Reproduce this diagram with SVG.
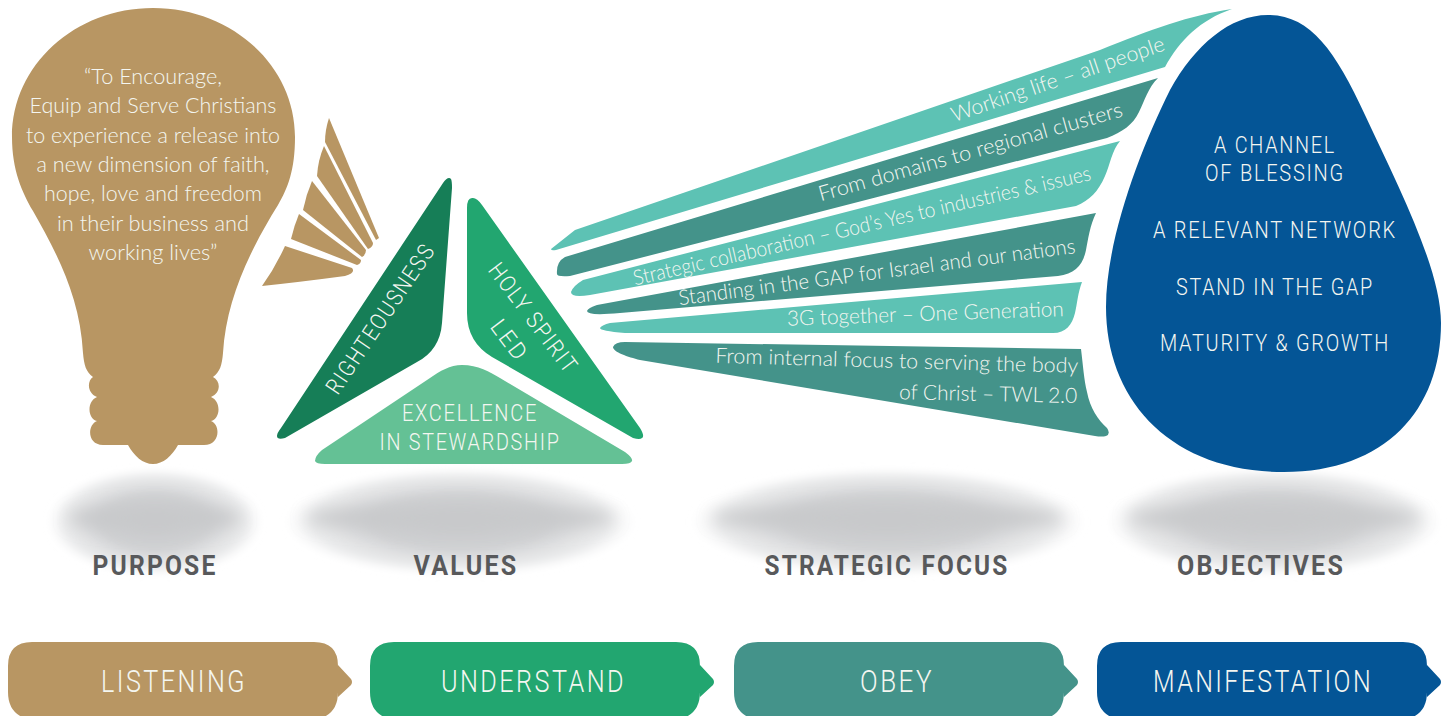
<svg xmlns="http://www.w3.org/2000/svg" width="1450" height="716" viewBox="0 0 1450 716">
<style>
text{font-family:"Lato","Noto Sans","Liberation Sans",sans-serif;font-weight:300;fill:#f4f6f1;}
.m{text-anchor:middle}
.e{text-anchor:end}
.body{font-size:21px}
.bar{font-size:21px}
.cap{font-family:"Roboto","Lato",sans-serif;font-size:23px;letter-spacing:2px}
.lab{font-family:"Roboto","Lato",sans-serif;font-size:28px;font-weight:700;fill:#58595b;text-anchor:middle;letter-spacing:2.5px}
.btn{font-family:"Roboto","Lato",sans-serif;font-size:31px;text-anchor:middle;letter-spacing:3px}
.tan{fill:#b89663}.tl{fill:#5dc2b4}.dt{fill:#44938a}
.sh1{fill:url(#shade);filter:url(#soft)}
.sh2{fill:#c8c9cb;filter:url(#blur)}
</style>
<defs>
<radialGradient id="shade"><stop offset="0" stop-color="#c8c9cb"/><stop offset=".5" stop-color="#d0d1d3"/><stop offset=".85" stop-color="#e6e7e8" stop-opacity=".8"/><stop offset="1" stop-color="#f2f2f3" stop-opacity="0"/></radialGradient>
<filter id="soft" x="-20%" y="-40%" width="140%" height="180%"><feGaussianBlur stdDeviation="3"/></filter>
<filter id="blur" x="-30%" y="-200%" width="160%" height="500%"><feGaussianBlur stdDeviation="8"/></filter>
<path id="btn" d="M24 642H306Q330 642 330 666V665L343 679Q345 682 343 685L330 697V692Q330 716 306 720H24Q0 716 0 692V666Q0 642 24 642Z"/>
</defs>
<rect width="1450" height="716" fill="#fff"/>

<g id="shadows">
<ellipse class="sh1" cx="155" cy="522" rx="108" ry="54"/>
<ellipse class="sh2" cx="155" cy="518" rx="86" ry="13"/>
<ellipse class="sh1" cx="460" cy="522" rx="176" ry="54"/>
<ellipse class="sh2" cx="460" cy="518" rx="154" ry="13"/>
<ellipse class="sh1" cx="888" cy="522" rx="198" ry="54"/>
<ellipse class="sh2" cx="888" cy="518" rx="176" ry="13"/>
<ellipse class="sh1" cx="1274" cy="522" rx="168" ry="54"/>
<ellipse class="sh2" cx="1274" cy="518" rx="146" ry="13"/>
</g>

<g id="purpose-bulb">
<path class="tan" d="M153 8C75 8 12 65 12 137C12 170 22 192 33 211C55 250 80 295 83 353C84 365 86 372 93 377C87 381 87 393 97 397C87 401 87 418 97 421C87 425 87 445 103 445H128C134 456 143 464 153 464C163 464 172 456 178 445H204C220 445 221 425 211 421C221 418 221 401 211 397C221 393 221 381 213 377C220 372 222 365 223 353C226 300 250 250 278 205C288 188 295 170 295 137C295 65 231 8 153 8Z"/>
<text class="body m" x="153" y="84" textLength="138" lengthAdjust="spacingAndGlyphs">“To Encourage,</text>
<text class="body m" x="153" y="113" textLength="247" lengthAdjust="spacingAndGlyphs">Equip and Serve Christians</text>
<text class="body m" x="153" y="143" textLength="254" lengthAdjust="spacingAndGlyphs">to experience a release into</text>
<text class="body m" x="153" y="172" textLength="233" lengthAdjust="spacingAndGlyphs">a new dimension of faith,</text>
<text class="body m" x="153" y="201" textLength="218" lengthAdjust="spacingAndGlyphs">hope, love and freedom</text>
<text class="body m" x="153" y="231" textLength="192" lengthAdjust="spacingAndGlyphs">in their business and</text>
<text class="body m" x="153" y="260" textLength="129" lengthAdjust="spacingAndGlyphs">working lives”</text>
</g>

<g id="purpose-rays">
<path class="tan" d="M329 118L379 238L376 240L325 142Q325 130 329 118Z"/>
<path class="tan" d="M324 146L373 243Q373 247 368 249L317 176Q318 160 324 146Z"/>
<path class="tan" d="M312 181L366 250Q366 255 362 257L303 210Q306 195 312 181Z"/>
<path class="tan" d="M299 214L361 260Q361 264 357 265L291 239Q294 226 299 214Z"/>
<path class="tan" d="M285 246L352 268Q356 273 345 276Q300 282 262 286Q275 268 285 246Z"/>
</g>

<g id="value-righteousness">
<path fill="#167e57" d="M443 183Q448 176 451 179Q452 181 452 188L442 323Q440 350 417 362L285 438Q277 440 277 436Q277 433 281 428Z"/>
<text class="cap m" transform="translate(387 323) rotate(-56)" textLength="176" lengthAdjust="spacingAndGlyphs">RIGHTEOUSNESS</text>
</g>
<g id="value-holy-spirit">
<path fill="#22a670" d="M482 205L640 428Q645 436 642 438Q640 440 633 438L492 357Q467 342 467 313V208Q467 197 473 198Q477 198 482 205Z"/>
<text class="cap m" transform="translate(527 323) rotate(53)" textLength="132" lengthAdjust="spacingAndGlyphs">HOLY SPIRIT</text>
<text class="cap m" transform="translate(503 345) rotate(53)" textLength="46" lengthAdjust="spacingAndGlyphs">LED</text>
</g>
<g id="value-excellence">
<path fill="#64c195" d="M462 365C478 365 490 372 500 378L625 452Q633 458 632 461Q631 464 622 464H325Q316 464 315 461Q315 456 322 450L430 378C440 371 450 365 462 365Z"/>
<text class="cap m" x="470" y="421" textLength="136" lengthAdjust="spacingAndGlyphs">EXCELLENCE</text>
<text class="cap m" x="470" y="450" textLength="181" lengthAdjust="spacingAndGlyphs">IN STEWARDSHIP</text>
</g>

<g id="focus-1">
<path class="tl" d="M551 249L575 230L1100 50C1150 30 1190 15 1232 9C1200 20 1180 40 1165 67L556 250Q551 251 551 249Z"/>
<text class="bar e" transform="translate(1166 50) rotate(-18.8)" textLength="224" lengthAdjust="spacingAndGlyphs">Working life – all people</text>
</g>
<g id="focus-2">
<path class="dt" d="M565 257L1158 78C1148 88 1145 100 1139 112C1133 125 1122 132 1107 138L570 276Q557 277 557 274Q556 262 565 257Z"/>
<text class="bar e" transform="translate(1124 116) rotate(-15.7)" textLength="315" lengthAdjust="spacingAndGlyphs">From domains to regional clusters</text>
</g>
<g id="focus-3">
<path class="tl" d="M583 280L1120 141C1112 150 1110 165 1105 176C1098 192 1090 200 1076 206L590 295Q571 298 571 292Q573 286 583 280Z"/>
<text class="bar e" transform="translate(1092 180) rotate(-13)" textLength="469" lengthAdjust="spacingAndGlyphs">Strategic collaboration – God’s Yes to industries &amp; issues</text>
</g>
<g id="focus-4">
<path class="dt" d="M597 305L1096 213C1090 225 1088 240 1086 250C1083 265 1075 274 1058 276L620 313Q587 316 587 311Q588 308 597 305Z"/>
<text class="bar e" transform="translate(1076 253) rotate(-7.5)" textLength="400" lengthAdjust="spacingAndGlyphs">Standing in the GAP for Israel and our nations</text>
</g>
<g id="focus-5">
<path class="tl" d="M610 323L1082 282C1078 292 1077 305 1075 313C1072 325 1066 333 1053 333H625Q600 331 600 328Q602 325 610 323Z"/>
<text class="bar e" transform="translate(1064 316) rotate(-2)" textLength="277" lengthAdjust="spacingAndGlyphs">3G together – One Generation</text>
</g>
<g id="focus-6">
<path class="dt" d="M625 342L1081 349C1083 365 1084 380 1087 392C1090 408 1098 420 1107 428Q1111 434 1106 436Q1102 437 1095 436L640 360C628 357 613 352 613 347Q615 342 625 342Z"/>
<text class="bar e" transform="translate(1078 373) rotate(1.6)" textLength="363" lengthAdjust="spacingAndGlyphs">From internal focus to serving the body</text>
<text class="bar e" transform="translate(1077 403) rotate(1.2)" textLength="178" lengthAdjust="spacingAndGlyphs">of Christ – TWL 2.0</text>
</g>

<g id="objectives-egg">
<path fill="#045596" d="M1268 15C1230 15 1195 45 1170 90C1140 150 1106 240 1106 307C1106 400 1170 472 1284 472C1385 472 1441 410 1441 323C1441 270 1400 190 1365 115C1335 50 1310 15 1268 15Z"/>
<text class="cap m" x="1275" y="153" textLength="122" lengthAdjust="spacingAndGlyphs">A CHANNEL</text>
<text class="cap m" x="1275" y="181" textLength="140" lengthAdjust="spacingAndGlyphs">OF BLESSING</text>
<text class="cap m" x="1275" y="238" textLength="244" lengthAdjust="spacingAndGlyphs">A RELEVANT NETWORK</text>
<text class="cap m" x="1275" y="295" textLength="198" lengthAdjust="spacingAndGlyphs">STAND IN THE GAP</text>
<text class="cap m" x="1275" y="351" textLength="230" lengthAdjust="spacingAndGlyphs">MATURITY &amp; GROWTH</text>
</g>

<g id="labels">
<text class="lab" x="155" y="575" textLength="125" lengthAdjust="spacingAndGlyphs">PURPOSE</text>
<text class="lab" x="466" y="575" textLength="105" lengthAdjust="spacingAndGlyphs">VALUES</text>
<text class="lab" x="887" y="575" textLength="245" lengthAdjust="spacingAndGlyphs">STRATEGIC FOCUS</text>
<text class="lab" x="1261" y="575" textLength="168" lengthAdjust="spacingAndGlyphs">OBJECTIVES</text>
</g>

<g id="step-listening">
<use href="#btn" x="8" fill="#b89663"/>
<text class="btn" x="174" y="692" textLength="146" lengthAdjust="spacingAndGlyphs">LISTENING</text>
</g>
<g id="step-understand">
<use href="#btn" x="370" fill="#22a670"/>
<text class="btn" x="533.500" y="692" textLength="185" lengthAdjust="spacingAndGlyphs">UNDERSTAND</text>
</g>
<g id="step-obey">
<use href="#btn" x="734" fill="#44938a"/>
<text class="btn" x="897" y="692" textLength="74" lengthAdjust="spacingAndGlyphs">OBEY</text>
</g>
<g id="step-manifestation">
<use href="#btn" x="1097" fill="#045596"/>
<text class="btn" x="1263" y="692" textLength="220" lengthAdjust="spacingAndGlyphs">MANIFESTATION</text>
</g>
</svg>
